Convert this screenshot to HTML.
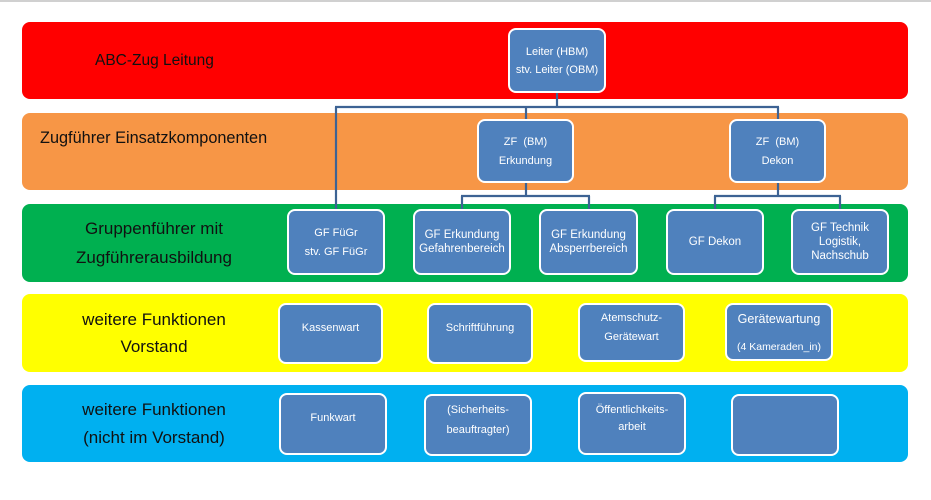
<!DOCTYPE html>
<html><head><meta charset="utf-8"><style>
html,body{margin:0;padding:0;background:#fff;}
body{width:931px;height:500px;position:relative;overflow:hidden;font-family:"Liberation Sans",Arial,sans-serif;}
.topline{position:absolute;left:0;top:0;width:931px;height:2px;background:#d0d0d0;}
.band{position:absolute;left:22px;width:886px;border-radius:8px;}
.lbl{position:absolute;color:#111;white-space:nowrap;height:20px;line-height:20px;}
.c{text-align:center;width:240px;left:34px;}
.box{position:absolute;box-sizing:border-box;background:#4f81bd;border:2px solid #fff;border-radius:8px;}
.t{position:absolute;color:#fff;white-space:nowrap;text-align:center;height:16px;line-height:16px;font-size:11px;}
svg{position:absolute;left:0;top:0;}
</style></head><body>
<div class="topline"></div>
<div class="band" style="top:22px;height:77px;background:#ff0000;"></div>
<div class="band" style="top:113px;height:77px;background:#f79646;"></div>
<div class="band" style="top:204px;height:78px;background:#00b050;"></div>
<div class="band" style="top:294px;height:78px;background:#ffff00;"></div>
<div class="band" style="top:385px;height:77px;background:#00b0f0;"></div>

<div class="lbl" style="left:95px;top:51px;font-size:15.5px;">ABC-Zug Leitung</div>
<div class="lbl" style="left:40px;top:128px;font-size:16.3px;">Zugführer Einsatzkomponenten</div>
<div class="lbl c" style="top:219px;font-size:17px;">Gruppenführer mit</div>
<div class="lbl c" style="top:248px;font-size:17px;">Zugführerausbildung</div>
<div class="lbl c" style="top:310px;font-size:17px;">weitere Funktionen</div>
<div class="lbl c" style="top:337px;font-size:17px;">Vorstand</div>
<div class="lbl c" style="top:400px;font-size:17px;">weitere Funktionen</div>
<div class="lbl c" style="top:428px;font-size:17px;">(nicht im Vorstand)</div>

<svg width="931" height="500">
<g stroke="#3d6394" stroke-width="2.2" fill="none">
<line x1="557" y1="92" x2="557" y2="107"/>
<line x1="335" y1="107" x2="779" y2="107"/>
<line x1="336" y1="107" x2="336" y2="210"/>
<line x1="526" y1="107" x2="526" y2="120"/>
<line x1="778" y1="107" x2="778" y2="120"/>
<line x1="526" y1="182" x2="526" y2="196"/>
<line x1="461" y1="196" x2="590" y2="196"/>
<line x1="462" y1="196" x2="462" y2="210"/>
<line x1="589" y1="196" x2="589" y2="210"/>
<line x1="778" y1="182" x2="778" y2="196"/>
<line x1="714" y1="196" x2="841" y2="196"/>
<line x1="715" y1="196" x2="715" y2="210"/>
<line x1="840" y1="196" x2="840" y2="210"/>
</g>
</svg>

<!-- Row 1 -->
<div class="box" style="left:508px;top:28px;width:98px;height:65px;"></div>
<div class="t" style="left:508px;width:98px;top:44px;">Leiter (HBM)</div>
<div class="t" style="left:508px;width:98px;top:62px;">stv. Leiter (OBM)</div>

<!-- Row 2 -->
<div class="box" style="left:477px;top:119px;width:97px;height:64px;"></div>
<div class="t" style="left:477px;width:97px;top:134px;">ZF&nbsp; (BM)</div>
<div class="t" style="left:477px;width:97px;top:153px;">Erkundung</div>
<div class="box" style="left:729px;top:119px;width:97px;height:64px;"></div>
<div class="t" style="left:729px;width:97px;top:134px;">ZF&nbsp; (BM)</div>
<div class="t" style="left:729px;width:97px;top:153px;">Dekon</div>

<!-- Row 3 -->
<div class="box" style="left:287px;top:209px;width:98px;height:66px;"></div>
<div class="t" style="left:287px;width:98px;top:225px;">GF FüGr</div>
<div class="t" style="left:287px;width:98px;top:244px;">stv. GF FüGr</div>
<div class="box" style="left:413px;top:209px;width:98px;height:66px;"></div>
<div class="t" style="left:413px;width:98px;top:227px;font-size:11.5px;">GF Erkundung</div>
<div class="t" style="left:413px;width:98px;top:241px;font-size:11.5px;">Gefahrenbereich</div>
<div class="box" style="left:539px;top:209px;width:99px;height:66px;"></div>
<div class="t" style="left:539px;width:99px;top:227px;font-size:11.5px;">GF Erkundung</div>
<div class="t" style="left:539px;width:99px;top:241px;font-size:11.5px;">Absperrbereich</div>
<div class="box" style="left:666px;top:209px;width:98px;height:66px;"></div>
<div class="t" style="left:666px;width:98px;top:234px;font-size:11.5px;">GF Dekon</div>
<div class="box" style="left:791px;top:209px;width:98px;height:66px;"></div>
<div class="t" style="left:791px;width:98px;top:220px;font-size:11.5px;">GF Technik</div>
<div class="t" style="left:791px;width:98px;top:234px;font-size:11.5px;">Logistik,</div>
<div class="t" style="left:791px;width:98px;top:248px;font-size:11.5px;">Nachschub</div>

<!-- Row 4 -->
<div class="box" style="left:278px;top:303px;width:105px;height:61px;"></div>
<div class="t" style="left:278px;width:105px;top:320px;">Kassenwart</div>
<div class="box" style="left:427px;top:303px;width:106px;height:61px;"></div>
<div class="t" style="left:427px;width:106px;top:320px;">Schriftführung</div>
<div class="box" style="left:578px;top:303px;width:107px;height:59px;"></div>
<div class="t" style="left:578px;width:107px;top:310px;">Atemschutz-</div>
<div class="t" style="left:578px;width:107px;top:329px;">Gerätewart</div>
<div class="box" style="left:725px;top:303px;width:108px;height:58px;"></div>
<div class="t" style="left:725px;width:108px;top:311px;font-size:12.5px;">Gerätewartung</div>
<div class="t" style="left:725px;width:108px;top:339px;font-size:10.5px;">(4 Kameraden_in)</div>

<!-- Row 5 -->
<div class="box" style="left:279px;top:393px;width:108px;height:62px;"></div>
<div class="t" style="left:279px;width:108px;top:410px;">Funkwart</div>
<div class="box" style="left:424px;top:394px;width:108px;height:62px;"></div>
<div class="t" style="left:424px;width:108px;top:402px;">(Sicherheits-</div>
<div class="t" style="left:424px;width:108px;top:422px;">beauftragter)</div>
<div class="box" style="left:578px;top:392px;width:108px;height:63px;"></div>
<div class="t" style="left:578px;width:108px;top:402px;">Öffentlichkeits-</div>
<div class="t" style="left:578px;width:108px;top:419px;">arbeit</div>
<div class="box" style="left:731px;top:394px;width:108px;height:62px;"></div>
</body></html>
